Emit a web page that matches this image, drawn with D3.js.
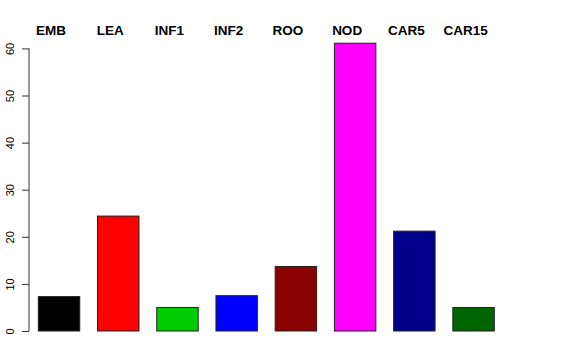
<!DOCTYPE html>
<html>
<head>
<meta charset="utf-8">
<script src="https://cdn.jsdelivr.net/npm/d3@7"></script>
<style>
  body { margin: 0; background: #fff; }
  text { font-family: "Liberation Sans", Arial, sans-serif; }
</style>
</head>
<body>
<div class="barchart"></div>
<script>
const categories = ['EMB', 'LEA', 'INF1', 'INF2', 'ROO', 'NOD', 'CAR5', 'CAR15'];
const values = [7.3, 24.4, 5.0, 7.5, 13.7, 61.1, 21.2, 5.0];
const colors = ['#000000', '#ff0000', '#00cd00', '#0000ff', '#8b0000', '#ff00ff', '#00008b', '#006400'];
const yTicks = [0, 10, 20, 30, 40, 50, 60];

const W = 576, H = 360;

const svg = d3.select('.barchart').append('svg')
  .attr('width', W)
  .attr('height', H);

const x = d3.scaleBand()
  .domain(categories)
  .range([38.3, 494.3])
  .paddingInner(0.3)
  .paddingOuter(0);

const y = d3.scaleLinear()
  .domain([0, 60])
  .range([331, 48.4]);

// bars
svg.selectAll('.bar')
  .data(categories)
  .enter().append('rect')
    .attr('class', 'bar')
    .attr('x', d => x(d))
    .attr('width', x.bandwidth())
    .attr('y', (d, i) => y(values[i]))
    .attr('height', (d, i) => y(0) - y(values[i]))
    .attr('fill', (d, i) => colors[i])
    .attr('stroke', '#222')
    .attr('stroke-width', 1);

// category labels on top
svg.selectAll('.lab')
  .data(categories)
  .enter().append('text')
    .attr('class', 'lab')
    .attr('x', d => x(d) + x.bandwidth() / 2 - 8)
    .attr('y', 34.5)
    .attr('text-anchor', 'middle')
    .attr('font-size', 13.5)
    .attr('font-weight', 'bold')
    .text(d => d);

// y axis
const axis = svg.append('g')
  .attr('transform', 'translate(29,0)')
  .call(d3.axisLeft(y).tickValues(yTicks).tickSize(7).tickSizeOuter(0).tickFormat(d3.format('d')));

axis.select('.domain').attr('stroke', '#333').attr('d', `M0,${y(0)}V${y(60)}`);
axis.selectAll('.tick line').attr('stroke', '#333');
axis.selectAll('.tick text')
  .attr('font-size', 11)
  .attr('font-family', '"Liberation Sans", Arial, sans-serif')
  .attr('fill', '#000')
  .attr('text-anchor', 'middle')
  .attr('transform', 'rotate(-90)')
  .attr('x', 0)
  .attr('dy', 0)
  .attr('y', -15);
</script>
</body>
</html>
